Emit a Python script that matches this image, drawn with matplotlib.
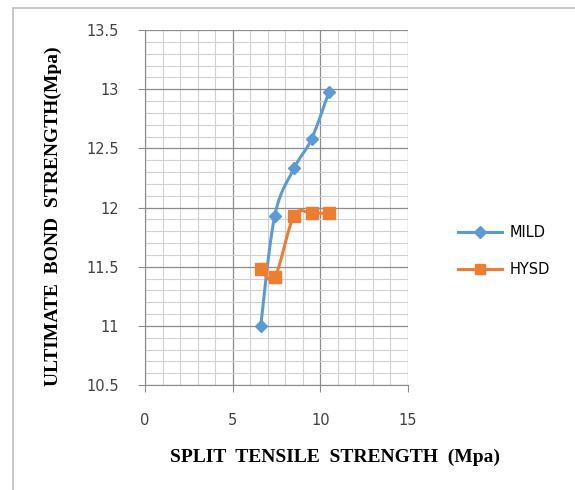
import numpy as np
import matplotlib.pyplot as plt
from matplotlib.patches import Rectangle

# values
mild_x = [6.6, 7.4, 8.5, 9.5, 10.5]
mild_y = [11.0, 11.93, 12.33, 12.58, 12.98]
hysd_x = [6.6, 7.4, 8.5, 9.5, 10.5]
hysd_y = [11.48, 11.41, 11.93, 11.95, 11.95]

blue = '#5b9bd5'
orange = '#ed7d31'


def smooth(xs, ys, sx=15.0, sy=3.0, n=30):
    # Excel-style smoothed line (Bezier through the points), in normalised axes space
    p = np.column_stack([np.array(xs) / sx, np.array(ys) / sy])
    out = []
    for i in range(len(p) - 1):
        p0 = p[i - 1] if i > 0 else p[i]
        p3 = p[i + 2] if i + 2 < len(p) else p[i + 1]
        c1 = p[i] + (p[i + 1] - p0) / 6
        c2 = p[i + 1] - (p3 - p[i]) / 6
        t = np.linspace(0, 1, n)[:, None]
        seg = ((1 - t) ** 3) * p[i] + 3 * ((1 - t) ** 2) * t * c1 + 3 * (1 - t) * t ** 2 * c2 + t ** 3 * p[i + 1]
        out.append(seg)
    out = np.vstack(out)
    return out[:, 0] * sx, out[:, 1] * sy


fig = plt.figure(figsize=(5.75, 4.9), dpi=100)
ax = fig.add_axes([145 / 575, 1 - 385 / 490, 263 / 575, 355 / 490])

# chart border (right and bottom edges fall outside the picture)
fig.patches.append(Rectangle((13 / 575, -10 / 490), 600 / 575, 492 / 490, transform=fig.transFigure,
                             fill=False, edgecolor='#bfbfbf', linewidth=1.2))

ax.set_xlim(0, 15)
ax.set_ylim(10.5, 13.5)
ax.set_xticks([0, 5, 10, 15])
ax.set_yticks(np.arange(10.5, 13.51, 0.5))
ax.set_yticklabels(['10.5', '11', '11.5', '12', '12.5', '13', '13.5'])
ax.set_xticks(np.arange(0, 15.1, 1), minor=True)
ax.set_yticks(np.arange(10.5, 13.51, 0.1), minor=True)
ax.grid(which='minor', color='#d0d0d0', linewidth=0.8)
ax.grid(which='major', color='#8c8c8c', linewidth=0.9)
ax.set_axisbelow(True)
ax.tick_params(which='minor', length=0)
ax.tick_params(which='major', direction='out', length=5, color='#8c8c8c',
               labelsize=10.5, labelcolor='#404040')
ax.tick_params(axis='x', pad=15)
ax.tick_params(axis='y', pad=14)
for s in ['top', 'right']:
    ax.spines[s].set_visible(False)
for s in ['left', 'bottom']:
    ax.spines[s].set_color('#8c8c8c')

sx, sy = smooth(mild_x, mild_y)
ax.plot(sx, sy, color=blue, linewidth=2.2)
ax.plot(mild_x, mild_y, linestyle='none', marker='D', markersize=6, color=blue)
hx, hy = smooth(hysd_x, hysd_y)
ax.plot(hx, hy, color=orange, linewidth=2.2)
ax.plot(hysd_x, hysd_y, linestyle='none', marker='s', markersize=8, color=orange)

# legend entries
ax.plot([], [], color=blue, linewidth=2.2, marker='D', markersize=6, label='MILD')
ax.plot([], [], color=orange, linewidth=2.2, marker='s', markersize=7, label='HYSD')
h, l = ax.get_legend_handles_labels()
fig.legend(h, l, loc='center left', bbox_to_anchor=(445 / 575, 1 - 251 / 490), frameon=False,
           fontsize=10.5, handlelength=3, labelspacing=1.5, handletextpad=0.5)

fig.text(335 / 575, 1 - 457 / 490, 'SPLIT  TENSILE  STRENGTH  (Mpa)', ha='center', va='center',
         family='Liberation Serif', fontweight='bold', fontsize=14)
fig.text(53 / 575, 1 - 216 / 490, 'ULTIMATE  BOND  STRENGTH(Mpa)', ha='center', va='center',
         rotation=90, family='Liberation Serif', fontweight='bold', fontsize=14)

fig.savefig('out.png', dpi=100)
